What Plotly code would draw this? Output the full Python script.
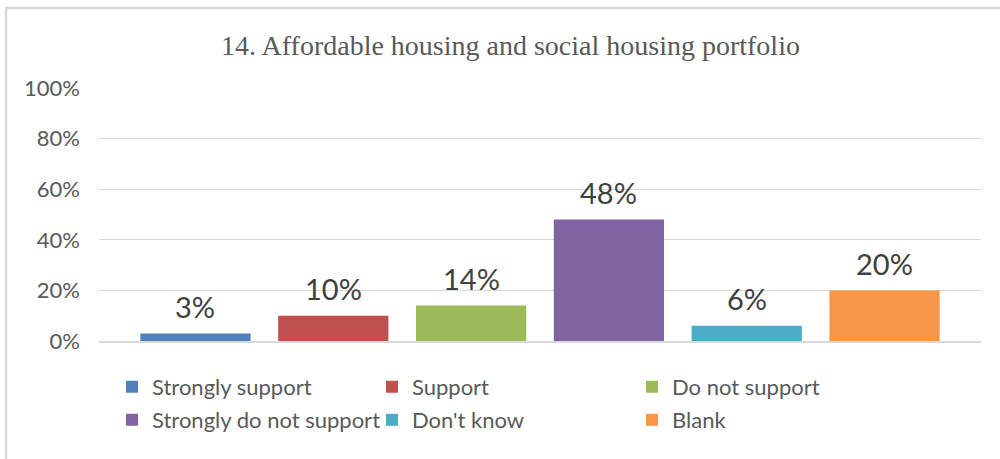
import plotly.graph_objects as go

# Survey responses for question 14
responses = ["Strongly support", "Support", "Do not support",
             "Strongly do not support", "Don't know", "Blank"]
shares = [0.03, 0.10, 0.14, 0.48, 0.06, 0.20]
colors = ["#4F81BD", "#C0504D", "#9BBB59", "#8064A2", "#4BACC6", "#F79646"]
y_ticks = [0, 0.2, 0.4, 0.6, 0.8, 1.0]

title_text = "14. Affordable housing and social housing portfolio"

SANS = "Lato, 'Open Sans', sans-serif"
SERIF = "'Liberation Serif', 'DejaVu Serif', serif"

fig = go.Figure()

# One trace per response so each gets its own legend entry;
# first row of the legend holds three entries, second row the rest.
for i, (name, val, col) in enumerate(zip(responses, shares, colors)):
    fig.add_trace(go.Bar(
        x=[name], y=[val], name=name,
        marker=dict(color=col, line=dict(width=0)),
        legend="legend" if i < 3 else "legend2",
        hoverinfo="skip",
    ))
    fig.add_annotation(
        x=name, y=val, text=f"{val:.0%}", showarrow=False,
        yanchor="middle", yshift=27,
        font=dict(family=SANS, size=29, color="#404040"),
    )

legend_common = dict(
    orientation="h", xref="container", yref="container",
    xanchor="left", yanchor="middle",
    entrywidth=215, entrywidthmode="pixels",
    font=dict(family=SANS, size=22, color="#595959"),
    bgcolor="rgba(0,0,0,0)", borderwidth=0,
    itemclick=False, itemdoubleclick=False,
    traceorder="normal",
)

fig.update_layout(
    width=1000, height=459,
    margin=dict(l=99, r=19, t=88, b=118, autoexpand=False),
    paper_bgcolor="white", plot_bgcolor="white",
    barmode="relative", bargap=0.2,
    showlegend=True,
    title=dict(
        text=title_text, xref="container", yref="container",
        x=0.5105, xanchor="center", y=0.902, yanchor="middle",
        font=dict(family=SERIF, size=28, color="#595959"),
    ),
    legend=dict(x=0.112, y=0.157, **legend_common),
    legend2=dict(x=0.112, y=0.085, **legend_common),
    xaxis=dict(
        type="category", range=[-0.7, 5.7],
        showticklabels=False, ticks="", showgrid=False,
        showline=True, linecolor="#d9d9d9", linewidth=1.5,
        zeroline=False, fixedrange=True,
    ),
    yaxis=dict(
        range=[0, 1], tickvals=y_ticks, tickformat=".0%",
        showgrid=True, gridcolor="#d9d9d9", gridwidth=1,
        zeroline=False, showline=False, ticks="",
        ticklabelstandoff=18,
        tickfont=dict(family=SANS, size=22, color="#595959"),
        fixedrange=True,
    ),
    shapes=[dict(
        type="rect", xref="paper", yref="paper",
        x0=-0.1054, x1=1.033, y0=-0.51, y1=1.316,
        line=dict(color="#d9d9d9", width=2.5),
        fillcolor="rgba(0,0,0,0)", layer="below",
    )],
)

fig.write_html("out.html")
